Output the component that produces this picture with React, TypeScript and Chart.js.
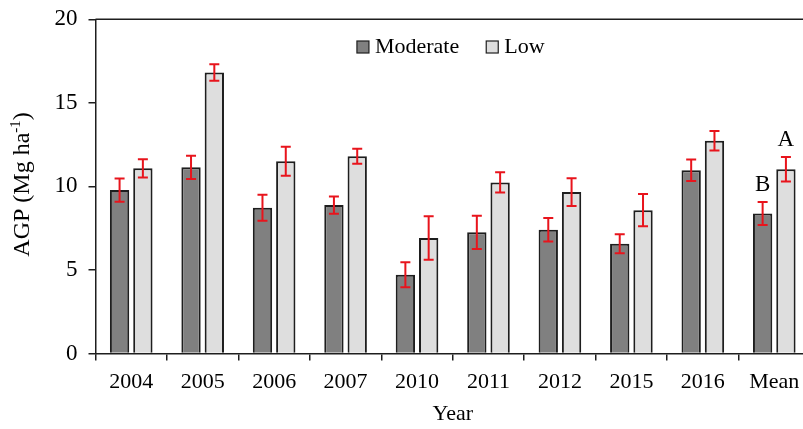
import React, { useEffect, useRef } from "react";
import { Chart, registerables } from "chart.js";

Chart.register(...registerables);

const categories = ["2004", "2005", "2006", "2007", "2010", "2011", "2012", "2015", "2016", "Mean"];
const moderate = [9.78, 11.14, 8.72, 8.88, 4.71, 7.25, 7.41, 6.57, 10.97, 8.38];
const moderateErr = [0.7, 0.7, 0.78, 0.52, 0.75, 1.0, 0.7, 0.57, 0.64, 0.69];
const low = [11.08, 16.82, 11.5, 11.81, 6.91, 10.24, 9.66, 8.58, 12.73, 11.03];
const lowErr = [0.54, 0.49, 0.87, 0.45, 1.3, 0.6, 0.83, 0.97, 0.58, 0.73];
const moderateLetters = ["", "", "", "", "", "", "", "", "", "B"];
const lowLetters = ["", "", "", "", "", "", "", "", "", "A"];
const yMin = 0;
const yMax = 20;
const yStep = 5;

const FONT = "'Liberation Serif', 'Times New Roman', serif";
const INK = "#000000";
const AXIS = "#1e1e1e";
const RED = "#e8141c";
const MOD_FILL = "#808080";
const LOW_FILL = "#dedede";

const errs = [moderateErr, lowErr];
const letters = [moderateLetters, lowLetters];

const decorPlugin = {
  id: "decor",
  afterDatasetsDraw(chart: any) {
    const ctx = chart.ctx;
    const ys = chart.scales.y;
    ctx.save();
    errs.forEach((errArr, di) => {
      const meta = chart.getDatasetMeta(di);
      const vals = chart.data.datasets[di].data as number[];
      meta.data.forEach((bar: any, i: number) => {
        const v = vals[i];
        const e = errArr[i];
        const x = bar.x;
        const yt = ys.getPixelForValue(v + e);
        const yb = ys.getPixelForValue(v - e);
        ctx.strokeStyle = RED;
        ctx.lineWidth = 2;
        ctx.beginPath();
        ctx.moveTo(x, yt);
        ctx.lineTo(x, yb);
        ctx.moveTo(x - 5, yt);
        ctx.lineTo(x + 5, yt);
        ctx.moveTo(x - 5, yb);
        ctx.lineTo(x + 5, yb);
        ctx.stroke();
        const letter = letters[di][i];
        if (letter) {
          ctx.fillStyle = INK;
          ctx.font = `23px ${FONT}`;
          ctx.textAlign = "center";
          ctx.textBaseline = "middle";
          ctx.fillText(letter, x, yt - 17);
        }
      });
    });
    ctx.restore();
  },
  afterDraw(chart: any) {
    const ctx = chart.ctx;
    const ca = chart.chartArea;
    ctx.save();
    // top border
    ctx.strokeStyle = AXIS;
    ctx.lineWidth = 1.5;
    ctx.beginPath();
    ctx.moveTo(ca.left, ca.top);
    ctx.lineTo(ca.right, ca.top);
    ctx.stroke();

    // y-axis title with superscript
    ctx.fillStyle = INK;
    ctx.translate(23, (ca.top + ca.bottom) / 2 - 2);
    ctx.rotate(-Math.PI / 2);
    ctx.textBaseline = "middle";
    ctx.textAlign = "left";
    const big = `24px ${FONT}`;
    const small = `15px ${FONT}`;
    const p1 = "AGP (Mg ha";
    const p2 = "-1";
    const p3 = ")";
    ctx.font = big;
    const w1 = ctx.measureText(p1).width;
    const w3 = ctx.measureText(p3).width;
    ctx.font = small;
    const w2 = ctx.measureText(p2).width;
    const total = w1 + w2 + w3;
    let xx = -total / 2;
    ctx.font = big;
    ctx.fillText(p1, xx, 0);
    xx += w1;
    ctx.font = small;
    ctx.fillText(p2, xx, -7);
    xx += w2;
    ctx.font = big;
    ctx.fillText(p3, xx, 0);
    ctx.restore();

    // legend
    ctx.save();
    const cx = (ca.left + ca.right) / 2;
    const ly = 47;
    const legFont = `22px ${FONT}`;
    ctx.font = legFont;
    ctx.textBaseline = "middle";
    ctx.textAlign = "left";
    const items = [
      { label: "Moderate", fill: MOD_FILL },
      { label: "Low", fill: LOW_FILL },
    ];
    const box = 12;
    const gapBoxText = 6;
    const gapItems = 27;
    const widths = items.map((it) => box + gapBoxText + ctx.measureText(it.label).width);
    const totalW = widths.reduce((a, b) => a + b, 0) + gapItems;
    let lx = cx - totalW / 2 - 2;
    items.forEach((it, k) => {
      ctx.fillStyle = it.fill;
      ctx.fillRect(lx, ly - box / 2, box, box);
      ctx.strokeStyle = AXIS;
      ctx.lineWidth = 1.2;
      ctx.strokeRect(lx, ly - box / 2, box, box);
      ctx.fillStyle = INK;
      ctx.fillText(it.label, lx + box + gapBoxText, ly);
      lx += widths[k] + gapItems;
    });
    ctx.restore();
  },
};

export default function App() {
  const ref = useRef<HTMLCanvasElement | null>(null);
  useEffect(() => {
    if (!ref.current) return;
    const chart = new Chart(ref.current, {
      type: "bar",
      data: {
        labels: categories,
        datasets: [
          {
            label: "Moderate",
            data: moderate,
            backgroundColor: MOD_FILL,
            borderColor: AXIS,
            borderWidth: 2,
            categoryPercentage: 0.652,
            barPercentage: 0.83,
          },
          {
            label: "Low",
            data: low,
            backgroundColor: LOW_FILL,
            borderColor: AXIS,
            borderWidth: 2,
            categoryPercentage: 0.652,
            barPercentage: 0.83,
          },
        ],
      },
      options: {
        responsive: false,
        animation: false,
        devicePixelRatio: 1,
        layout: { padding: { left: 0, right: 20, top: 19.3, bottom: 0 } },
        plugins: {
          legend: { display: false },
          tooltip: { enabled: false },
        },
        scales: {
          x: {
            grid: {
              offset: true,
              drawOnChartArea: false,
              drawTicks: true,
              tickLength: 7,
              color: AXIS,
              lineWidth: 1.5,
            },
            border: { display: true, color: AXIS, width: 1.5 },
            ticks: {
              color: INK,
              font: { family: FONT, size: 22 },
              padding: 9,
              maxRotation: 0,
              autoSkip: false,
            },
            title: {
              display: true,
              text: "Year",
              color: INK,
              font: { family: FONT, size: 22 },
              padding: { top: 0, bottom: 2 },
            },
            afterFit(scale: any) {
              scale.height = 75.5;
              scale.paddingLeft = 0;
              scale.paddingRight = 0;
            },
          },
          y: {
            min: yMin,
            max: yMax,
            grid: {
              drawOnChartArea: false,
              drawTicks: true,
              tickLength: 7,
              color: AXIS,
              lineWidth: 1.5,
            },
            border: { display: true, color: AXIS, width: 1.5 },
            ticks: {
              stepSize: yStep,
              color: INK,
              font: { family: FONT, size: 23 },
              padding: 11,
            },
            afterFit(scale: any) {
              scale.width = 95.5;
              scale.paddingTop = 0;
              scale.paddingBottom = 0;
            },
          },
        },
      },
      plugins: [decorPlugin],
    });
    return () => chart.destroy();
  }, []);
  return (
    <div
      style={{
        position: "fixed",
        left: 0,
        top: 0,
        width: 803,
        height: 429,
        overflow: "hidden",
        background: "#fff",
      }}
    >
      <canvas ref={ref} width={830} height={429} style={{ display: "block" }} />
    </div>
  );
}
